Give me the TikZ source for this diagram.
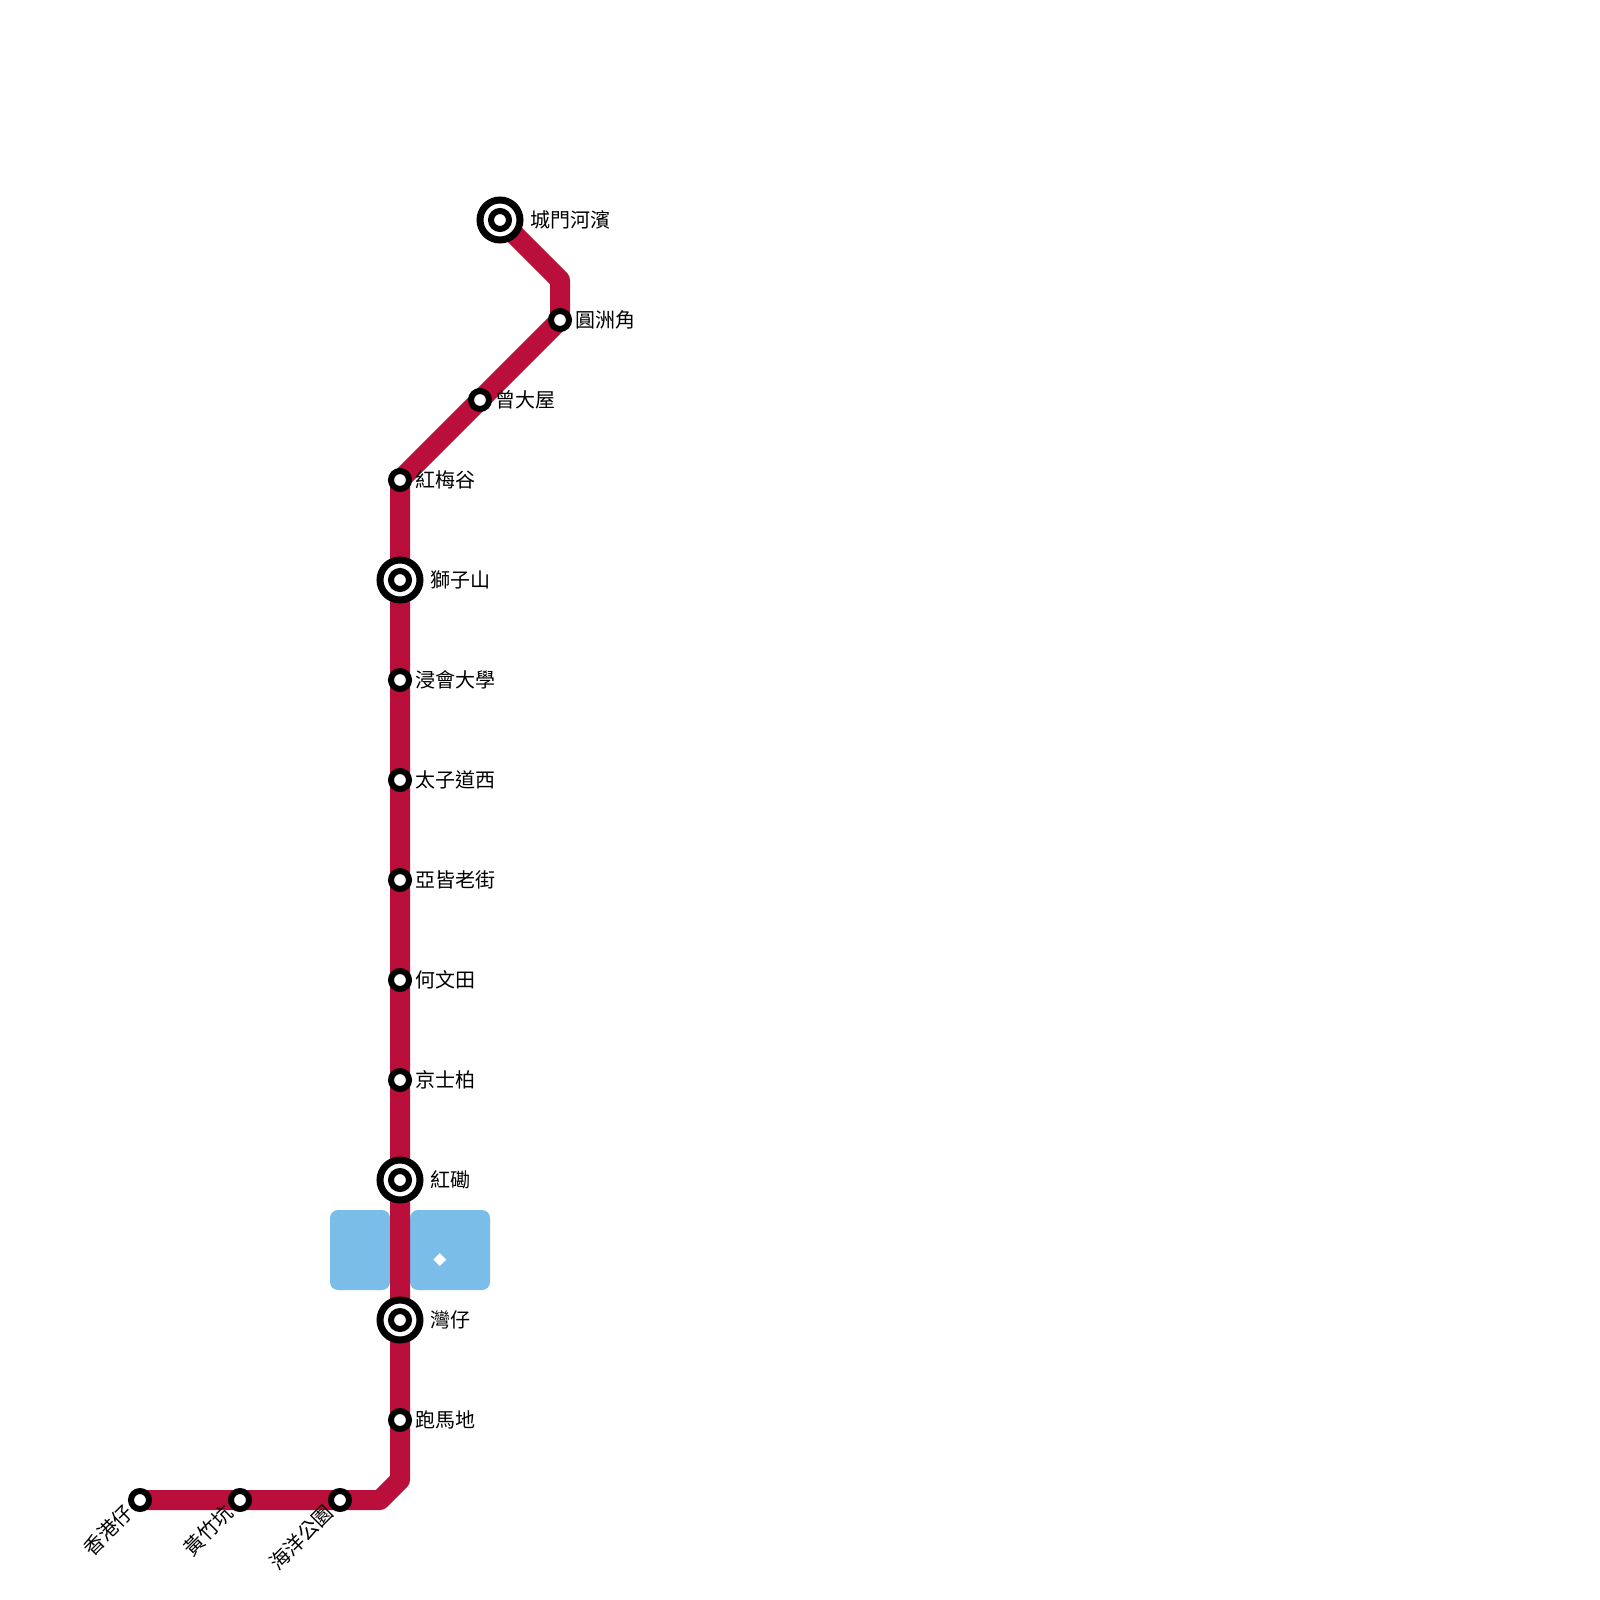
\documentclass[tikz,border=0pt]{standalone}
\usepackage{fontspec}
\newfontfamily\cjk{Noto Sans CJK TC}
\newfontfamily\symfont{DejaVu Sans}
\definecolor{linered}{HTML}{BA0F3A}
\definecolor{water}{HTML}{7ABDE9}
\tikzset{
  x=0.5pt,y=-0.5pt,
  stn/.style={circle,draw=black,fill=white,line width=3pt,minimum size=9pt,inner sep=0pt,outer sep=0pt},
  ringouter/.style={circle,draw=black,fill=white,line width=3.5pt,minimum size=20pt,inner sep=0pt,outer sep=0pt},
  lbl/.style={font=\cjk\fontsize{10}{12}\selectfont,anchor=west,inner sep=0pt,text=black},
  rlbl/.style={font=\cjk\fontsize{10}{12}\selectfont,anchor=east,inner sep=0pt,rotate=45,text=black},
  water block/.style={fill=water,rounded corners=4pt,draw=none},
  route/.style={draw=linered,line width=10pt,line join=round}
}
\newcommand{\ring}[3]{%
  \node[ringouter] (#1) at (#2,#3) {};
  \node[stn] at (#2,#3) {};
}
\begin{document}
\begin{tikzpicture}
\useasboundingbox (0,0) rectangle (1600,1600);
\fill[white] (0,0) rectangle (1600,1600);
\node[water block,minimum width=30pt,minimum height=40pt,inner sep=0pt] (wl) at (360,1250) {};
\node[water block,minimum width=40pt,minimum height=40pt,inner sep=0pt] (wr) at (450,1250) {};
\node[font=\symfont\fontsize{8.5}{9}\selectfont,text=white,inner sep=0pt] (wd) at (440,1260) {◆};
\coordinate (c1) at (560,280);
\coordinate (c2) at (400,1480);
\coordinate (c3) at (380,1500);
\coordinate (a) at (500,220);
\coordinate (b) at (560,320);
\coordinate (d) at (480,400);
\coordinate (e) at (400,480);
\coordinate (h) at (140,1500);
\draw[route] (a) -- (c1) -- (b) -- (d) -- (e) -- (c2) -- (c3) -- (h);
\ring{cm}{500}{220}
\node[stn] (yc) at (560,320) {};
\node[stn] (cd) at (480,400) {};
\node[stn] (hm) at (400,480) {};
\ring{sz}{400}{580}
\node[stn] (bu) at (400,680) {};
\node[stn] (pe) at (400,780) {};
\node[stn] (ar) at (400,880) {};
\node[stn] (ht) at (400,980) {};
\node[stn] (kp) at (400,1080) {};
\ring{hh}{400}{1180}
\ring{wc}{400}{1320}
\node[stn] (hv) at (400,1420) {};
\node[stn] (op) at (340,1500) {};
\node[stn] (wh) at (240,1500) {};
\node[stn] (ab) at (140,1500) {};
\node[lbl] at (530,220) {城門河濱};
\node[lbl] at (575,320) {圓洲角};
\node[lbl] at (495,400) {曾大屋};
\node[lbl] at (415,480) {紅梅谷};
\node[lbl] at (430,580) {獅子山};
\node[lbl] at (415,680) {浸會大學};
\node[lbl] at (415,780) {太子道西};
\node[lbl] at (415,880) {亞皆老街};
\node[lbl] at (415,980) {何文田};
\node[lbl] at (415,1080) {京士柏};
\node[lbl] at (430,1180) {紅磡};
\node[lbl] at (430,1320) {灣仔};
\node[lbl] at (415,1420) {跑馬地};
\node[rlbl] at (130,1509) {香港仔};
\node[rlbl] at (230,1509) {黃竹坑};
\node[rlbl] at (330,1509) {海洋公園};
\end{tikzpicture}
\end{document}
